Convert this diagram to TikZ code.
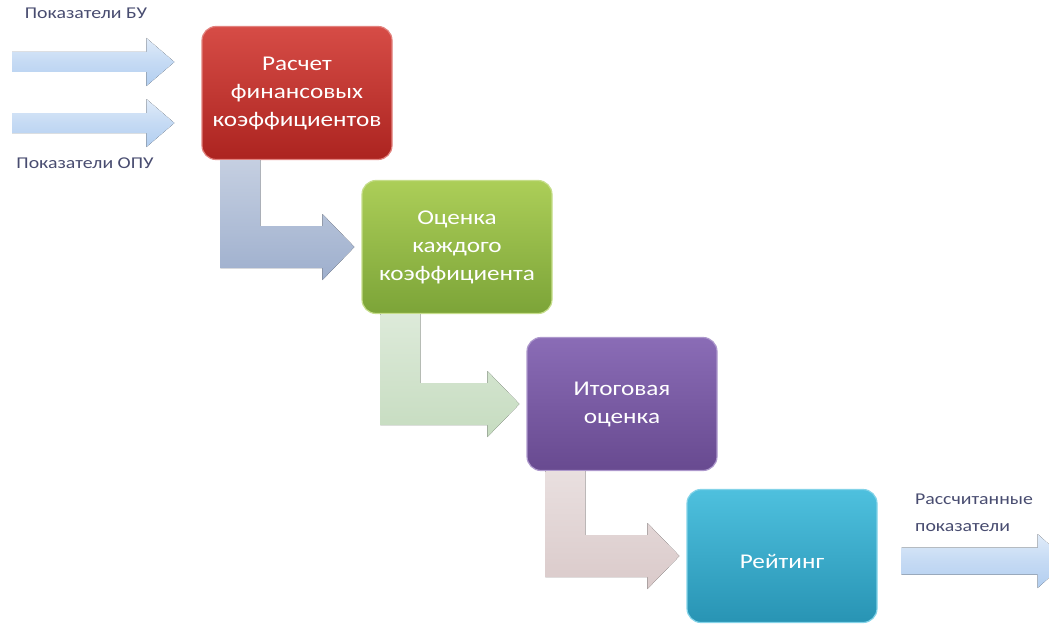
\documentclass[tikz,border=0pt]{standalone}
\usepackage{fontspec}
\setmainfont{Carlito}[FakeStretch=1.2]
\usetikzlibrary{calc}
\definecolor{lbltext}{RGB}{72,76,112}
\definecolor{inblue}{RGB}{178,206,240}
\definecolor{redtop}{RGB}{214,76,70}
\definecolor{redbot}{RGB}{172,36,32}
\definecolor{greentop}{RGB}{172,206,88}
\definecolor{greenbot}{RGB}{124,164,56}
\definecolor{purtop}{RGB}{138,108,182}
\definecolor{purbot}{RGB}{104,74,144}
\definecolor{teatop}{RGB}{78,192,222}
\definecolor{teabot}{RGB}{40,148,180}
\definecolor{elbowA}{RGB}{158,175,205}
\definecolor{elbowB}{RGB}{198,220,192}
\definecolor{elbowC}{RGB}{218,202,202}

\begin{document}
\begin{tikzpicture}[x=1pt, y=-1pt,
  stage/.style={rounded corners=14pt, minimum width=190pt, minimum height=133pt,
    align=center, text=white, font=\fontsize{21}{28}\selectfont, line width=1.2pt,
    execute at begin node={\rule{0pt}{26pt}}},
  lbl/.style={text=lbltext, font=\fontsize{16.5}{27}\selectfont, inner sep=0pt},
  inarrow/.style={top color=inblue!40, bottom color=inblue, middle color=inblue!75}]
  \useasboundingbox (0,0) rectangle (1049,626);

  \node[stage, top color=redtop, bottom color=redbot, draw=redtop!70!white] (calc) at (297,93)
    {Расчет\\финансовых\\коэффициентов};
  \node[stage, top color=greentop, bottom color=greenbot, draw=greentop!70!white] (eval) at (457,247)
    {Оценка\\каждого\\коэффициента};
  \node[stage, top color=purtop, bottom color=purbot, draw=purtop!70!white] (total) at (622,404)
    {Итоговая\\оценка};
  \node[stage, top color=teatop, bottom color=teabot, draw=teatop!70!white] (rate) at (782,556)
    {Рейтинг};

  % elbow arrows between the stages
  \foreach \a/\b/\c in {calc/eval/elbowA, eval/total/elbowB, total/rate/elbowC}
    \fill[top color=\c!60!white, bottom color=\c]
      ($(\a.south west)+(19,0)$) coordinate (s) -- ++(40,0) |- ($(\b.west)+(-39,-21)$)
      -- ++(0,-12) -- ($(\b.west)+(-7,0)$) -- ($(\b.west)+(-39,33)$) -- ++(0,-12) -| (s) -- cycle;

  % inputs
  \coordinate (bu) at (12,62);
  \coordinate (opu) at (12,123);
  \coordinate (buin) at ($(calc.west)+(-27,-31)$);
  \coordinate (opuin) at ($(calc.west)+(-27,30)$);
  \foreach \p/\q in {bu/buin, opu/opuin}
    \fill[inarrow] ($(\p)+(0,-10)$) -- ($(\q)+(-28,-10)$) -- ++(0,-14) -- (\q)
      -- ($(\q)+(-28,24)$) -- ++(0,-14) -- ($(\p)+(0,10)$) -- cycle;
  \node[lbl] (bulbl) at (86,13) {Показатели БУ};
  \node[lbl] (opulbl) at (85,163) {Показатели ОПУ};

  % output
  \coordinate (out) at ($(rate.east)+(24,5)$);
  \coordinate (outtip) at ($(rate.east)+(190,5)$);
  \fill[inarrow] ($(out)+(0,-13.5)$) -- ($(outtip)+(-30,-13.5)$) -- ++(0,-13.5) -- (outtip)
    -- ($(outtip)+(-30,27)$) -- ++(0,-13.5) -- ($(out)+(0,13.5)$) -- cycle;
  \node[lbl, align=left, anchor=west] (outlbl) at (915,513) {Рассчитанные\\показатели};
\end{tikzpicture}
\end{document}
